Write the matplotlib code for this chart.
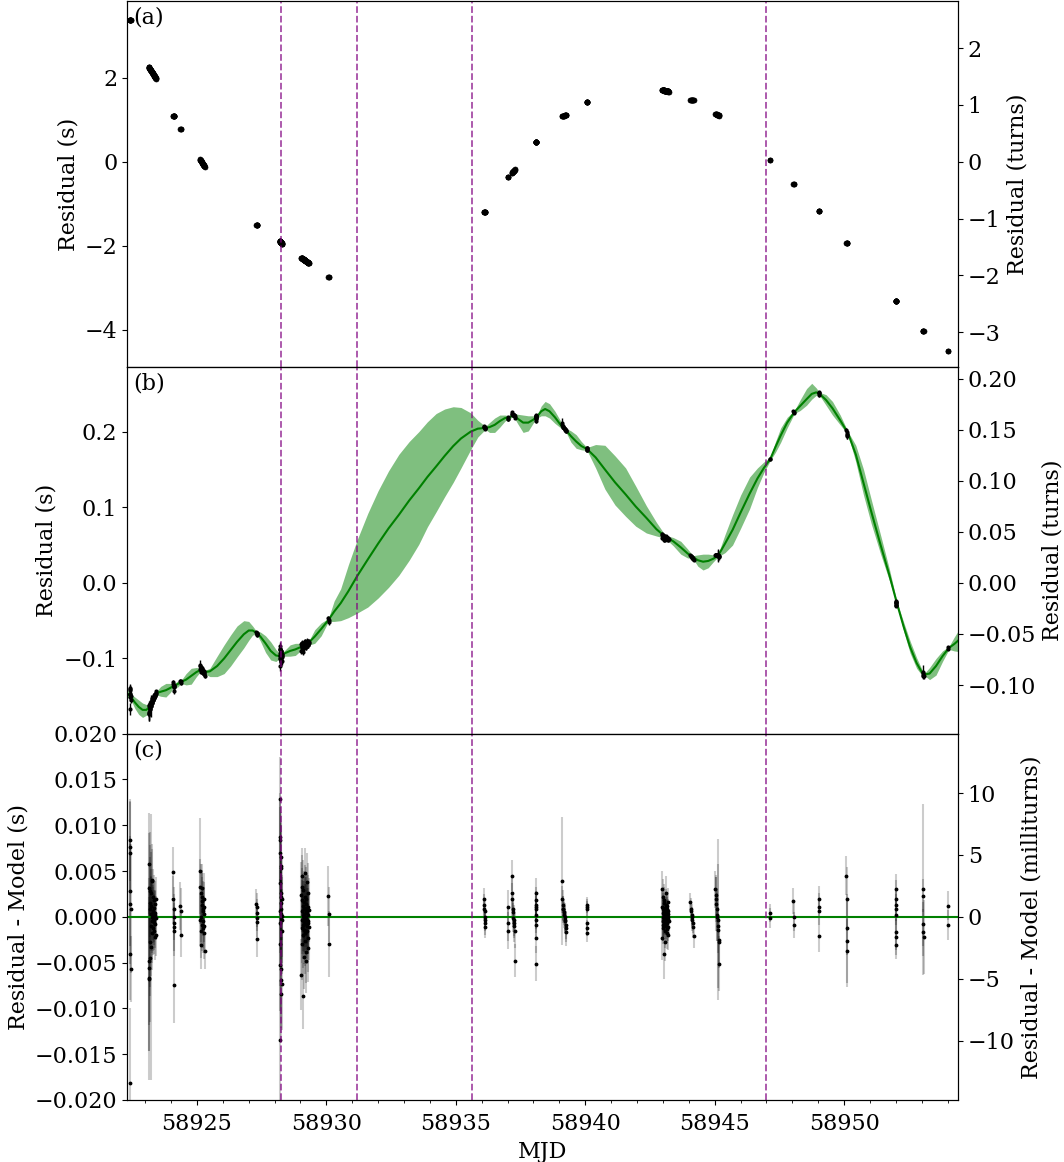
import numpy as np
import matplotlib
matplotlib.use("Agg")
import matplotlib.pyplot as plt
from matplotlib.ticker import MultipleLocator

plt.rcParams['font.family'] = 'DejaVu Serif'
plt.rcParams['mathtext.fontset'] = 'dejavuserif'
plt.rcParams['font.size'] = 16

P0 = 1.351  # spin period (s), for the turns axes

# observing sessions (MJD span of each block of TOAs)
sess_start = [58922.40, 58923.13, 58924.09, 58924.36, 58925.12, 58927.30, 58928.20,
              58929.03, 58930.08, 58936.10, 58937.00, 58937.16, 58938.09, 58939.10,
              58940.05, 58942.97, 58944.06, 58945.03, 58947.13, 58948.04, 58949.02,
              58950.09, 58952.00, 58953.05, 58954.01]
sess_end = [58922.44, 58923.42, 58924.11, 58924.38, 58925.30, 58927.32, 58928.28,
            58929.32, 58930.10, 58936.12, 58937.02, 58937.28, 58938.11, 58939.27,
            58940.07, 58943.22, 58944.19, 58945.18, 58947.15, 58948.06, 58949.04,
            58950.11, 58952.02, 58953.07, 58954.03]

# pre-fit residuals (s), start and end of each session
a_start = [3.37, 2.26, 1.10, 0.79, 0.06, -1.50, -1.88, -2.28, -2.74, -1.20, -0.37, -0.27,
           0.47, 1.08, 1.43, 1.71, 1.46, 1.14, 0.05, -0.53, -1.17, -1.92, -3.31, -4.02, -4.50]
a_end = [3.37, 1.98, 1.10, 0.79, -0.12, -1.50, -1.95, -2.41, -2.74, -1.20, -0.37, -0.18,
         0.47, 1.12, 1.43, 1.67, 1.46, 1.10, 0.05, -0.53, -1.17, -1.92, -3.31, -4.02, -4.50]

# residuals after the timing fit (s), start and end of each session
b_start = [-0.147, -0.168, -0.136, -0.131, -0.113, -0.067, -0.096, -0.084, -0.049, 0.205,
           0.218, 0.221, 0.219, 0.207, 0.177, 0.062, 0.035, 0.034, 0.164, 0.226, 0.250,
           0.198, -0.027, -0.121, -0.086]
b_end = [-0.150, -0.145, -0.136, -0.131, -0.120, -0.067, -0.096, -0.079, -0.049, 0.205,
         0.218, 0.223, 0.219, 0.202, 0.177, 0.058, 0.033, 0.039, 0.164, 0.226, 0.250,
         0.198, -0.027, -0.121, -0.086]

# residual minus GP model for every TOA (ms), per session
toa_res_ms = [
    [8.4, -4.1, 7.6, 1.4, 7.0, -18.2, 2.8, -5.7, 0.9],
    [-5.6, 5.8, -6.7, 3.2, -4.8, -6.8, 0.8, -2.7, 2.8, -4.5, 1.5, -1.0, 2.6, 0.3, -3.3,
     1.2, -0.5, 4.0, 0.0, -1.8, 3.9, 0.6, -0.2, 2.2, -1.2, 0.5, 1.0, -0.6, 0.1, -0.3,
     1.8, -1.5, 0.2, -0.8, 1.4, -2.2, 0.4, -0.1, 2.0, -2.0],
    [4.9, 1.9, 0.8, 0.0, -0.7, -1.1, -1.6, -7.4],
    [1.2, 0.6, -2.0],
    [5.0, -0.3, 3.3, -1.6, 2.6, 0.0, -3.1, 2.2, 1.7, -0.9, 1.3, 3.1, -0.5, 0.9, -1.2,
     0.6, 1.9, -1.8, 0.3, 1.1, -1.0, -3.7],
    [1.4, 1.1, 0.4, -0.1, -0.6, -2.4],
    [12.9, -5.3, 8.7, 0.6, -13.5, 8.4, -0.7, 3.7, 7.0, -3.0, 0.9, 6.5, -6.9, 1.5, -0.1,
     5.5, -8.4, 2.6, 0.3, 5.3, -5.7, 2.2, -1.6, 1.9, -7.3, 0.1, -0.3],
    [-6.3, 2.4, -1.2, 4.5, 0.6, -3.0, 1.8, -0.4, 3.3, -2.0, 0.1, -8.6, 1.2, -0.9, 2.9,
     -0.2, 0.8, -4.4, 1.6, -1.4, 0.3, -0.6, 4.8, -2.6, 1.0, -0.1, 2.2, -1.8, 0.5, -3.8,
     1.4, -0.8, 0.0, -4.8, 2.0, -1.0, 0.9, -0.3, 3.8, -1.6, 0.4, -2.3, 2.6, -0.5, 1.1,
     -3.4, 0.2, -0.7, 0.7, -1.1],
    [2.3, 0.3, -3.0],
    [1.9, 1.3, 0.9, 0.6, 0.0, -0.3, -0.7, -1.1],
    [1.1, -0.7, -1.5],
    [4.5, 2.6, 1.9, 0.8, 0.5, -0.1, -0.4, -0.7, -1.0, -1.5, -4.8],
    [2.6, 1.8, 1.3, 1.1, 0.8, 0.2, -0.3, -0.9, -2.3, -5.1],
    [3.9, 1.9, 1.3, 0.9, 0.8, 0.5, 0.2, 0.0, -0.3, -0.5, -0.9, -1.2, -1.7],
    [1.3, 1.1, 0.8, -0.7, -1.2, -1.8],
    [3.0, -2.3, 1.1, 0.4, -0.5, 2.2, -1.2, 0.0, 0.8, -0.9, 1.5, -4.1, 0.3, -0.2, 1.8,
     -0.6, 0.6, -1.5, 0.1, -0.3, 1.0, -2.8, 0.5, -0.1, 1.3, -0.8, 0.2, -1.0, 2.6, -0.4,
     0.7, -1.8, 0.9, -0.7, 0.4, -1.3, 1.2, -0.2, 0.0, -2.0, 1.6, 0.3, -1.1, 0.6, -0.5],
    [1.6, 0.9, 0.6, 0.2, 0.0, -0.3, -0.7, -1.1, -2.1],
    [3.0, 2.4, 1.9, 1.4, 0.8, 0.2, 0.0, -0.3, -1.0, -1.4, -2.5, -2.7, -5.1],
    [0.4, -0.1],
    [1.7, 0.0, -0.9],
    [1.9, 1.1, 0.6, -2.1],
    [4.5, 1.9, -1.2, -2.6, -3.7],
    [3.0, 2.0, 1.3, 0.8, 0.2, -1.7, -2.2, -3.1],
    [3.0, 2.3, -0.8, -1.7, -2.2],
    [1.2, -0.9],
]
toa_err_ms = [
    [4.5, 5.0, 5.0, 6.5, 5.5, 8.2, 6.0, 3.6, 7.0],
    [9.0, 5.5, 8.0, 6.0, 7.0, 11.0, 8.5, 6.0, 5.0, 7.0, 5.0, 5.5, 4.5, 4.0, 14.5,
     4.0, 4.5, 4.0, 4.0, 4.0, 3.5, 3.5, 3.5, 3.0, 3.0, 3.0, 3.0, 3.0, 2.8, 2.8,
     2.8, 2.6, 2.6, 2.6, 2.5, 2.5, 2.5, 2.4, 2.4, 2.3],
    [2.7, 2.6, 2.5, 2.5, 2.5, 2.6, 2.7, 4.2],
    [2.6, 2.5, 2.4],
    [5.8, 2.8, 3.0, 2.9, 3.2, 2.7, 2.6, 2.9, 3.1, 2.8, 3.0, 2.7, 2.9, 3.0, 2.8,
     2.6, 2.9, 2.8, 3.0, 2.7, 2.9, 2.0],
    [1.6, 1.5, 1.5, 1.5, 1.6, 2.0],
    [4.5, 5.0, 4.8, 4.5, 6.5, 4.6, 4.8, 4.7, 5.0, 4.6, 4.5, 4.9, 5.2, 4.4, 4.6,
     4.8, 5.0, 4.5, 4.6, 4.7, 4.9, 4.5, 4.6, 4.4, 5.1, 4.5, 4.7],
    [3.9, 3.6, 3.8, 3.0, 3.4, 3.9, 3.5, 3.7, 3.4, 3.6, 3.8, 3.6, 3.5, 3.7, 3.3,
     3.6, 3.8, 3.5, 3.4, 3.7, 3.6, 3.5, 2.7, 3.6, 3.4, 3.7, 3.5, 3.6, 3.8, 3.4,
     3.5, 3.7, 3.6, 3.5, 3.4, 3.6, 3.8, 3.5, 3.2, 3.6, 3.4, 3.7, 3.3, 3.6, 3.5,
     3.7, 3.6, 3.4, 3.5, 3.6],
    [3.3, 3.0, 3.6],
    [1.3, 1.2, 1.2, 1.2, 1.2, 1.2, 1.3, 1.2],
    [1.8, 1.9, 2.0],
    [1.7, 2.0, 1.8, 1.6, 1.6, 1.6, 1.7, 1.6, 1.8, 1.9, 1.8],
    [1.6, 1.5, 1.5, 1.4, 1.5, 1.5, 1.5, 1.6, 1.7, 1.9],
    [7.0, 1.5, 1.6, 1.4, 1.5, 1.4, 1.4, 1.5, 1.5, 1.4, 1.5, 1.6, 1.5],
    [0.9, 0.9, 0.9, 0.9, 0.9, 1.0],
    [2.0, 2.4, 1.8, 1.6, 1.7, 1.9, 1.8, 2.6, 1.6, 1.7, 1.8, 2.7, 1.6, 1.7, 1.8,
     1.6, 1.5, 1.9, 1.6, 1.7, 1.5, 2.0, 1.6, 1.5, 1.7, 1.6, 1.5, 1.7, 1.9, 1.6,
     1.5, 1.7, 1.6, 1.5, 1.4, 1.6, 1.5, 1.4, 1.5, 1.6, 1.5, 1.4, 1.5, 1.4, 1.4],
    [1.0, 1.2, 1.1, 1.2, 1.1, 1.2, 1.1, 1.2, 1.3],
    [2.0, 2.2, 2.5, 3.0, 2.4, 2.8, 2.6, 8.8, 6.8, 2.5, 2.6, 2.9, 3.0],
    [1.0, 1.1],
    [1.4, 1.6, 1.4],
    [1.5, 1.5, 1.5, 1.7],
    [2.1, 3.5, 3.0, 5.1, 3.5],
    [1.7, 2.0, 1.8, 1.7, 1.8, 1.9, 2.0, 1.5],
    [9.3, 1.8, 2.4, 2.6, 4.0],
    [1.6, 1.6],
]

# GP model of the residuals: mean and 1-sigma band edges (s)
gp_mjd = [58922.30, 58922.45, 58922.60, 58922.75, 58922.90, 58923.05, 58923.20, 58923.32,
          58923.42, 58923.60, 58923.80, 58923.97, 58924.11, 58924.25, 58924.39, 58924.58,
          58924.78, 58924.98, 58925.15, 58925.30, 58925.50, 58925.78, 58926.05, 58926.30,
          58926.55, 58926.81, 58927.00, 58927.15, 58927.30, 58927.45, 58927.65, 58927.85,
          58928.05, 58928.23, 58928.40, 58928.60, 58928.80, 58929.00, 58929.18, 58929.35,
          58929.55, 58929.80, 58930.08, 58930.30, 58930.55, 58930.85, 58931.19, 58931.60,
          58932.00, 58932.40, 58932.80, 58933.20, 58933.57, 58933.90, 58934.24, 58934.57,
          58934.90, 58935.20, 58935.57, 58935.85, 58936.14, 58936.30, 58936.50, 58936.70,
          58936.90, 58937.06, 58937.23, 58937.40, 58937.60, 58937.80, 58938.00, 58938.14,
          58938.30, 58938.45, 58938.62, 58938.83, 58939.05, 58939.23, 58939.45, 58939.65,
          58939.85, 58940.07, 58940.40, 58940.76, 58941.15, 58941.56, 58941.95, 58942.36,
          58942.75, 58943.09, 58943.40, 58943.69, 58943.95, 58944.16, 58944.35, 58944.55,
          58944.75, 58944.95, 58945.15, 58945.40, 58945.69, 58946.00, 58946.35, 58946.65,
          58946.90, 58947.15, 58947.35, 58947.55, 58947.80, 58948.08, 58948.30, 58948.55,
          58948.75, 58948.92, 58949.05, 58949.30, 58949.55, 58949.85, 58950.15, 58950.45,
          58950.75, 58951.05, 58951.41, 58951.75, 58952.04, 58952.30, 58952.55, 58952.80,
          58953.00, 58953.12, 58953.30, 58953.55, 58953.80, 58954.05, 58954.25, 58954.45]
gp_mean = [-0.146, -0.151, -0.158, -0.164, -0.168, -0.168, -0.163, -0.153,
           -0.146, -0.144, -0.142, -0.139, -0.136, -0.134, -0.131, -0.128,
           -0.123, -0.118, -0.115, -0.118, -0.117, -0.110, -0.100, -0.089,
           -0.078, -0.068, -0.063, -0.063, -0.066, -0.071, -0.080, -0.090,
           -0.096, -0.097, -0.093, -0.090, -0.088, -0.085, -0.082, -0.078,
           -0.071, -0.061, -0.049, -0.038, -0.027, -0.011, 0.009, 0.031,
           0.052, 0.072, 0.090, 0.109, 0.125, 0.140, 0.154, 0.168,
           0.181, 0.191, 0.200, 0.204, 0.205, 0.206, 0.209, 0.214,
           0.218, 0.219, 0.222, 0.217, 0.212, 0.212, 0.216, 0.220,
           0.227, 0.230, 0.227, 0.219, 0.209, 0.203, 0.194, 0.187,
           0.181, 0.177, 0.166, 0.150, 0.133, 0.117, 0.101, 0.086,
           0.071, 0.061, 0.055, 0.047, 0.039, 0.034, 0.030, 0.028,
           0.029, 0.032, 0.037, 0.052, 0.070, 0.093, 0.118, 0.138,
           0.152, 0.164, 0.180, 0.195, 0.212, 0.226, 0.234, 0.243,
           0.250, 0.252, 0.250, 0.242, 0.231, 0.215, 0.198, 0.170,
           0.132, 0.094, 0.050, 0.010, -0.027, -0.058, -0.085, -0.106,
           -0.118, -0.121, -0.120, -0.110, -0.097, -0.086, -0.081, -0.075]
gp_lo = [-0.151, -0.155, -0.166, -0.174, -0.178, -0.175, -0.166, -0.155,
         -0.148, -0.150, -0.151, -0.145, -0.138, -0.138, -0.133, -0.135,
         -0.134, -0.124, -0.117, -0.120, -0.124, -0.124, -0.120, -0.110,
         -0.098, -0.086, -0.076, -0.069, -0.068, -0.077, -0.092, -0.102,
         -0.104, -0.099, -0.097, -0.097, -0.096, -0.090, -0.084, -0.082,
         -0.080, -0.070, -0.051, -0.051, -0.050, -0.046, -0.040, -0.032,
         -0.020, -0.006, 0.010, 0.030, 0.051, 0.074, 0.094, 0.114,
         0.133, 0.152, 0.176, 0.193, 0.203, 0.199, 0.199, 0.206,
         0.214, 0.217, 0.220, 0.210, 0.199, 0.201, 0.212, 0.218,
         0.221, 0.221, 0.218, 0.211, 0.205, 0.201, 0.186, 0.178,
         0.176, 0.175, 0.152, 0.124, 0.103, 0.088, 0.075, 0.066,
         0.062, 0.059, 0.049, 0.038, 0.033, 0.032, 0.022, 0.017,
         0.020, 0.028, 0.035, 0.040, 0.050, 0.072, 0.098, 0.126,
         0.146, 0.162, 0.173, 0.186, 0.205, 0.224, 0.228, 0.235,
         0.243, 0.248, 0.248, 0.235, 0.222, 0.209, 0.196, 0.160,
         0.116, 0.078, 0.038, 0.003, -0.029, -0.064, -0.093, -0.113,
         -0.122, -0.123, -0.128, -0.122, -0.104, -0.088, -0.090, -0.091]
gp_hi = [-0.141, -0.147, -0.151, -0.155, -0.159, -0.161, -0.160, -0.151,
         -0.144, -0.137, -0.133, -0.133, -0.134, -0.130, -0.129, -0.120,
         -0.113, -0.112, -0.113, -0.116, -0.113, -0.097, -0.082, -0.069,
         -0.057, -0.050, -0.051, -0.057, -0.064, -0.065, -0.070, -0.078,
         -0.088, -0.095, -0.089, -0.082, -0.080, -0.080, -0.080, -0.075,
         -0.062, -0.053, -0.047, -0.024, -0.008, 0.024, 0.057, 0.092,
         0.122, 0.148, 0.170, 0.187, 0.200, 0.213, 0.224, 0.230,
         0.233, 0.232, 0.225, 0.215, 0.207, 0.212, 0.218, 0.222,
         0.222, 0.221, 0.224, 0.223, 0.222, 0.221, 0.221, 0.222,
         0.234, 0.240, 0.237, 0.227, 0.214, 0.205, 0.201, 0.196,
         0.187, 0.179, 0.183, 0.182, 0.168, 0.152, 0.128, 0.102,
         0.080, 0.063, 0.060, 0.055, 0.045, 0.036, 0.037, 0.038,
         0.038, 0.037, 0.040, 0.064, 0.090, 0.116, 0.140, 0.152,
         0.160, 0.166, 0.187, 0.205, 0.219, 0.228, 0.242, 0.257,
         0.264, 0.258, 0.252, 0.249, 0.240, 0.222, 0.200, 0.182,
         0.150, 0.110, 0.063, 0.018, -0.025, -0.052, -0.077, -0.099,
         -0.114, -0.119, -0.112, -0.100, -0.090, -0.084, -0.072, -0.061]

# epochs marked with dashed lines
event_mjd = [58928.24, 58931.20, 58935.63, 58947.00]

# expand sessions into individual TOAs
toa_t, toa_a, toa_b, toa_r, toa_e = [], [], [], [], []
for i in range(len(sess_start)):
    n = len(toa_res_ms[i])
    r = np.array(toa_res_ms[i]) / 1000.0
    toa_t.append(np.linspace(sess_start[i], sess_end[i], n))
    toa_a.append(np.linspace(a_start[i], a_end[i], n))
    toa_b.append(np.linspace(b_start[i], b_end[i], n) + r)
    toa_r.append(r)
    toa_e.append(np.array(toa_err_ms[i]) / 1000.0)
toa_t = np.concatenate(toa_t)
toa_a = np.concatenate(toa_a)
toa_b = np.concatenate(toa_b)
toa_r = np.concatenate(toa_r)
toa_e = np.concatenate(toa_e)

fig, axes = plt.subplots(3, 1, sharex=True, figsize=(10.64, 11.62), dpi=100)
fig.subplots_adjust(left=0.1194, right=0.9004, top=0.999, bottom=0.0534, hspace=0)
ax1, ax2, ax3 = axes

# (a) residuals before the fit
ax1.plot(toa_t, toa_a, 'o', color='k', ms=3.6, mew=0.5)
ax1.set_ylim(-4.89, 3.82)
ax1.set_ylabel("Residual (s)")

# (b) residuals with GP model
ax2.fill_between(gp_mjd, gp_lo, gp_hi, color='green', alpha=0.5, lw=0)
ax2.plot(gp_mjd, gp_mean, color='green', lw=1.5)
ax2.errorbar(toa_t, toa_b, yerr=toa_e, fmt='.', color='k', ms=4, ecolor='k', elinewidth=1)
ax2.set_ylim(-0.1995, 0.285)
ax2.set_ylabel("Residual (s)")

# (c) residual minus model
ax3.errorbar(toa_t, toa_r, yerr=toa_e, fmt='none', ecolor='k', alpha=0.2, elinewidth=1.5)
ax3.axhline(0, color='green', lw=1.5, zorder=3)
ax3.plot(toa_t, toa_r, '.', color='k', ms=3.5, zorder=4)
ax3.set_ylim(-0.02, 0.02)
ax3.set_ylabel("Residual - Model (s)")
ax3.set_xlabel("MJD")

for ax, lab in zip(axes, ["(a)", "(b)", "(c)"]):
    for t in event_mjd:
        ax.axvline(t, color='purple', ls='--', lw=1.3, alpha=0.7, zorder=5)
    ax.text(0.007, 0.985, lab, transform=ax.transAxes, va='top', ha='left')
    ax.xaxis.set_major_locator(MultipleLocator(5))
    ax.xaxis.set_minor_locator(MultipleLocator(1))
    ax.ticklabel_format(axis='x', useOffset=False)
    ax.tick_params(axis='x', which='both', pad=6)

ax3.set_xlim(58922.30, 58954.40)

# period-scaled axes on the right
tw1 = ax1.twinx()
tw1.set_ylim(np.array(ax1.get_ylim()) / P0)
tw1.set_ylabel("Residual (turns)")
tw2 = ax2.twinx()
tw2.set_ylim(np.array(ax2.get_ylim()) / P0)
tw2.set_ylabel("Residual (turns)")
tw3 = ax3.twinx()
tw3.set_ylim(np.array(ax3.get_ylim()) / P0 * 1000)
tw3.set_ylabel("Residual - Model (milliturns)")

fig.savefig("out.png", dpi=100)
